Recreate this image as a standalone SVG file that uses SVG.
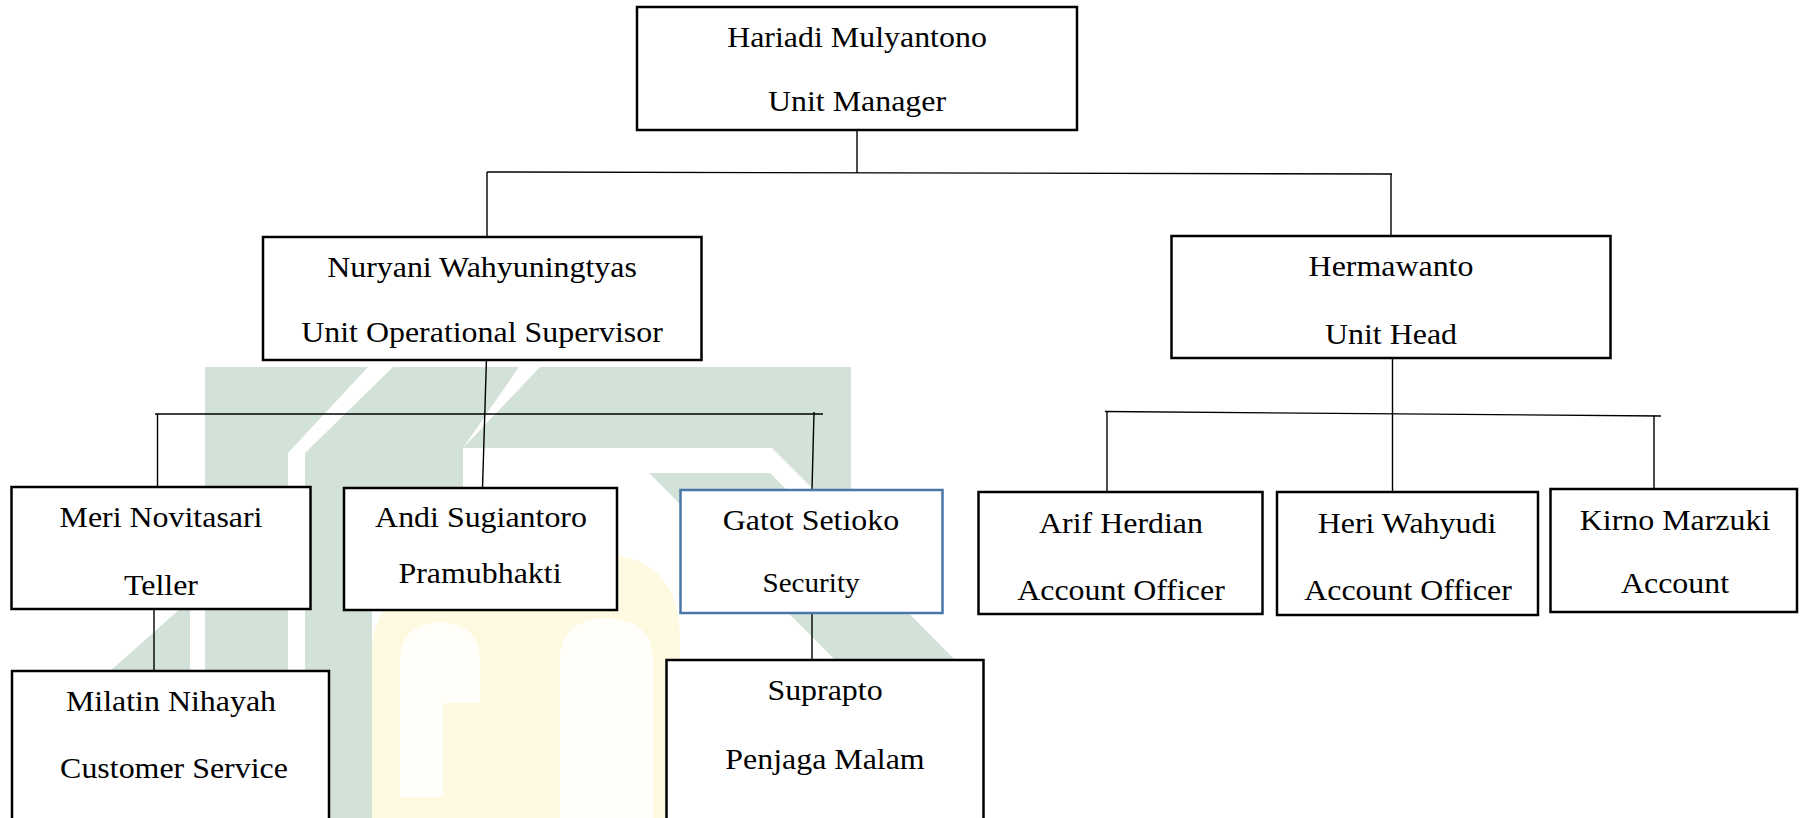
<svg xmlns="http://www.w3.org/2000/svg" width="1800" height="818" viewBox="0 0 1800 818">
<style>
.box{fill:#fff;stroke:#000;stroke-width:2.5}
.blue{fill:#fff;stroke:#4a76a8;stroke-width:2.5}
.ln{stroke:#000;stroke-width:1.4;fill:none}
text{font-family:"Liberation Serif","Times New Roman",serif;font-size:28.5px;fill:#000;text-anchor:middle}
.sm{font-size:26.5px}
.wg{fill:#d2e2d8}
.wy{fill:#fefae2}
.ww{fill:#fffef8}
</style>
<rect width="1800" height="818" fill="#fff"/>
<g id="watermark">
<polygon class="wg" points="205,367 368,367 288,453 288,818 205,818"/>
<polygon class="wg" points="100,680 190,600 190,818 100,818"/>
<polygon class="wg" points="393,367 519,367 463,448 463,610 372,610 372,818 305,818 305,453"/>
<polygon class="wg" points="540,367 851,367 851,490 814,490 772,448 463,448"/>
<polygon class="wg" points="649,473 770,473 960,665 840,665"/>
<path class="wy" d="M372,818 L372,650 Q372,590 450,585 L520,585 Q560,555 610,555 Q680,560 680,640 L680,818 Z"/>
<path class="ww" d="M400,797 L400,660 Q400,625 440,622 Q480,625 480,660 L480,797 Z"/>
<rect class="wy" x="443" y="703" width="37" height="94"/>
<path class="ww" d="M560,818 L560,660 Q560,620 606,618 Q653,620 653,660 L653,818 Z"/>
</g>
<g id="connectors">
<line class="ln" x1="857" y1="130" x2="857" y2="173"/>
<line class="ln" x1="487" y1="172" x2="1392" y2="174"/>
<line class="ln" x1="487" y1="172" x2="487" y2="237"/>
<line class="ln" x1="1391" y1="174" x2="1391" y2="243"/>
<line class="ln" x1="486.5" y1="358" x2="482.5" y2="488"/>
<line class="ln" x1="155" y1="414" x2="823" y2="414"/>
<line class="ln" x1="157.5" y1="414" x2="157.5" y2="487"/>
<line class="ln" x1="814" y1="412" x2="812" y2="490"/>
<line class="ln" x1="154" y1="603" x2="154" y2="676"/>
<line class="ln" x1="812" y1="613" x2="812" y2="666"/>
<line class="ln" x1="1392.5" y1="358" x2="1392.5" y2="493"/>
<line class="ln" x1="1105" y1="411.5" x2="1661" y2="416"/>
<line class="ln" x1="1107" y1="412" x2="1107" y2="496"/>
<line class="ln" x1="1654" y1="416" x2="1654" y2="489"/>
</g>
<g id="n-hariadi">
<rect class="box" x="637" y="7" width="440" height="123"/>
<text transform="translate(857,47) scale(1.12,1)">Hariadi Mulyantono</text>
<text transform="translate(857,111) scale(1.12,1)">Unit Manager</text>
</g>
<g id="n-nuryani">
<rect class="box" x="263" y="237" width="438.5" height="123"/>
<text transform="translate(482,277) scale(1.12,1)">Nuryani Wahyuningtyas</text>
<text transform="translate(482,342) scale(1.12,1)">Unit Operational Supervisor</text>
</g>
<g id="n-hermawanto">
<rect class="box" x="1171.5" y="236" width="439" height="122"/>
<text transform="translate(1391,276) scale(1.12,1)">Hermawanto</text>
<text transform="translate(1391,344) scale(1.12,1)">Unit Head</text>
</g>
<g id="n-meri">
<rect class="box" x="11.5" y="487" width="299" height="122"/>
<text transform="translate(161,527) scale(1.12,1)">Meri Novitasari</text>
<text transform="translate(161,595) scale(1.12,1)">Teller</text>
</g>
<g id="n-andi">
<rect class="box" x="344" y="488" width="273" height="122"/>
<text transform="translate(481,527) scale(1.12,1)">Andi Sugiantoro</text>
<text transform="translate(480,583) scale(1.12,1)">Pramubhakti</text>
</g>
<g id="n-gatot">
<rect class="blue" x="680.5" y="490" width="262" height="123"/>
<text transform="translate(811,530) scale(1.12,1)">Gatot Setioko</text>
<text class="sm" transform="translate(811,592) scale(1.1,1)">Security</text>
</g>
<g id="n-milatin">
<rect class="box" x="12" y="671" width="317" height="160"/>
<text transform="translate(171,711) scale(1.12,1)">Milatin Nihayah</text>
<text transform="translate(174,778) scale(1.12,1)">Customer Service</text>
</g>
<g id="n-suprapto">
<rect class="box" x="666.5" y="660" width="317" height="170"/>
<text transform="translate(825,700) scale(1.12,1)">Suprapto</text>
<text transform="translate(825,769) scale(1.12,1)">Penjaga Malam</text>
</g>
<g id="n-arif">
<rect class="box" x="978.5" y="492" width="284" height="122"/>
<text transform="translate(1121,533) scale(1.12,1)">Arif Herdian</text>
<text transform="translate(1121,600) scale(1.12,1)">Account Officer</text>
</g>
<g id="n-heri">
<rect class="box" x="1277" y="492" width="261" height="123"/>
<text transform="translate(1407,533) scale(1.12,1)">Heri Wahyudi</text>
<text transform="translate(1408,600) scale(1.12,1)">Account Officer</text>
</g>
<g id="n-kirno">
<rect class="box" x="1550.5" y="489" width="246.5" height="123"/>
<text transform="translate(1675,530) scale(1.12,1)">Kirno Marzuki</text>
<text transform="translate(1675,593) scale(1.12,1)">Account</text>
</g>
</svg>
